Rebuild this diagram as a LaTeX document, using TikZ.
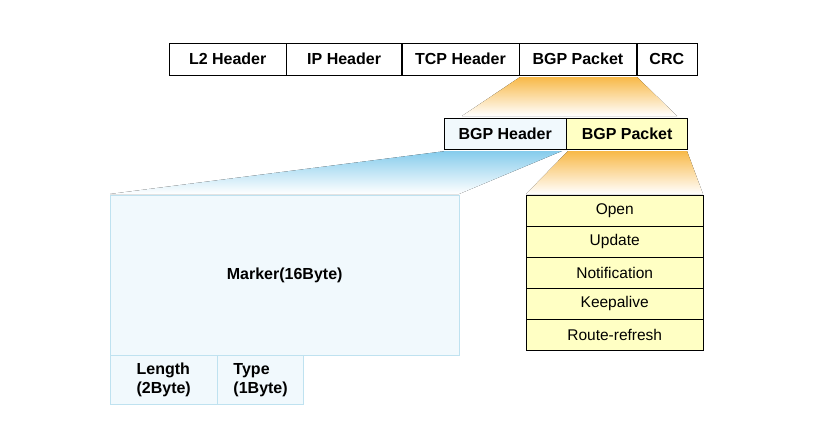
\documentclass[tikz,border=0pt]{standalone}
\usepackage{fontspec}
\setmainfont{Liberation Sans}
\definecolor{funnelorange}{HTML}{F8B948}
\definecolor{funnelblue}{HTML}{86CCEC}
\definecolor{paleblue}{HTML}{F1F9FD}
\definecolor{paleyellow}{HTML}{FFFFC4}
\definecolor{cellline}{HTML}{BFE2F0}
\begin{document}
\begin{tikzpicture}[
		x=1pt, y=-1pt,
		field/.style={draw, minimum height=32pt, font=\bfseries\fontsize{16}{18}\selectfont, inner sep=0pt},
		item/.style={draw, fill=paleyellow, minimum width=177pt, minimum height=30.6pt, font=\fontsize{15.5}{18}\selectfont, inner sep=0pt},
		cell/.style={draw=cellline, fill=paleblue, inner sep=0pt, font=\bfseries\fontsize{16}{19}\selectfont}
	]
	\useasboundingbox (0,0) rectangle (826,444);
	% fading funnels
	\fill[top color=funnelorange, bottom color=white]
		(520,77) -- (637,77) -- (677,116) -- (462,116) -- cycle;
	\fill[top color=funnelblue, bottom color=white]
		(446,151) -- (562,151) -- (459,194) -- (110,194) -- cycle;
	\fill[top color=funnelorange, bottom color=white]
		(568,151) -- (687,151) -- (703,194) -- (526,194) -- cycle;
	% top frame
	\node[field, anchor=north west, minimum width=117pt] (l2) at (169,43) {L2 Header};
	\node[field, anchor=west, minimum width=115pt] (ip) at (l2.east) {IP Header};
	\node[field, anchor=west, minimum width=117pt] (tcp) at (ip.east) {TCP Header};
	\node[field, anchor=west, minimum width=117pt] (bgp) at (tcp.east) {BGP Packet};
	\node[field, anchor=west, minimum width=60pt] (crc) at (bgp.east) {CRC};
	% BGP packet
	\node[field, fill=paleblue, anchor=north west, minimum width=122pt, minimum height=31pt] (hdr) at (444,118) {BGP Header};
	\node[field, fill=paleyellow, anchor=west, minimum width=121pt, minimum height=31pt] (pkt) at (hdr.east) {BGP Packet};
	% header layout
	\node[cell, anchor=north west, minimum width=349pt, minimum height=160pt] (marker) at (110,195) {Marker(16Byte)};
	\node[cell, anchor=north west, minimum width=107pt, minimum height=49pt, align=left] (len) at (marker.south west) {Length\\(2Byte)};
	\node[cell, anchor=west, minimum width=86pt, minimum height=49pt, align=left] (type) at (len.east) {Type\\(1Byte)};
	% message types
	\node[item, anchor=north west] (open) at (526,195) {Open};
	\node[item, anchor=north] (upd) at (open.south) {Update};
	\node[item, anchor=north] (notif) at (upd.south) {Notification};
	\node[item, anchor=north] (keep) at (notif.south) {Keepalive};
	\node[item, anchor=north] (rr) at (keep.south) {Route-refresh};
\end{tikzpicture}
\end{document}
